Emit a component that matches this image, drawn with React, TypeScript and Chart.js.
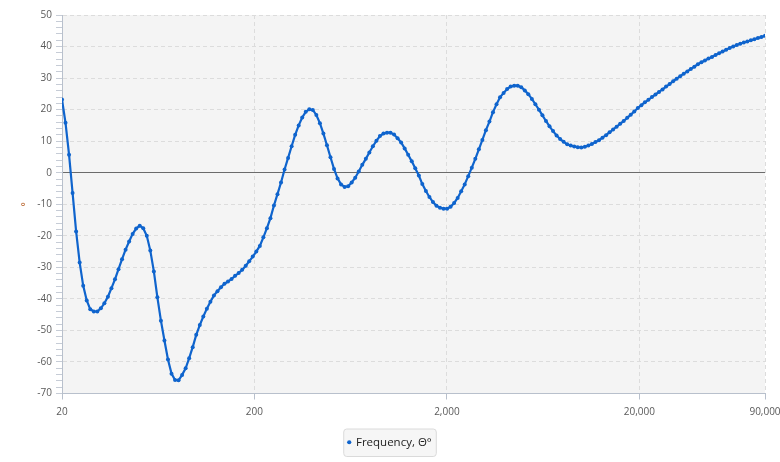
import { useEffect, useRef } from 'react'
import { Chart, registerables } from 'chart.js'

Chart.register(...registerables)
Chart.defaults.font.family = '"Open Sans", "Noto Sans", sans-serif'

// sample frequencies (Hz), log spaced from 20 to 90,000
const frequencies = [
  20, 20.86, 21.76, 22.7, 23.68, 24.71, 25.77, 26.89, 28.05, 29.26,
  30.52, 31.84, 33.21, 34.65, 36.14, 37.7, 39.33, 41.03, 42.8, 44.65,
  46.58, 48.59, 50.69, 52.88, 55.16, 57.54, 60.03, 62.62, 65.32, 68.14,
  71.08, 74.15, 77.35, 80.69, 84.17, 87.81, 91.6, 95.55, 99.68, 104,
  108.5, 113.2, 118.1, 123.2, 128.5, 134, 139.8, 145.8, 152.1, 158.7,
  165.6, 172.7, 180.2, 187.9, 196, 204.5, 213.3, 222.6, 232.2, 242.2,
  252.6, 263.5, 274.9, 286.8, 299.2, 312.1, 325.6, 339.6, 354.3, 369.6,
  385.6, 402.2, 419.6, 437.7, 456.6, 476.3, 496.9, 518.3, 540.7, 564,
  588.4, 613.8, 640.3, 668, 696.8, 726.9, 758.3, 791, 825.2, 860.8,
  897.9, 936.7, 977.1, 1019, 1063, 1109, 1157, 1207, 1259, 1314,
  1370, 1430, 1491, 1556, 1623, 1693, 1766, 1842, 1922, 2005,
  2091, 2182, 2276, 2374, 2476, 2583, 2695, 2811, 2933, 3059,
  3191, 3329, 3473, 3623, 3779, 3943, 4113, 4290, 4476, 4669,
  4870, 5081, 5300, 5529, 5768, 6017, 6276, 6547, 6830, 7125,
  7433, 7753, 8088, 8437, 8802, 9182, 9578, 9992, 10423, 10873,
  11343, 11833, 12344, 12877, 13433, 14013, 14618, 15249, 15907, 16594,
  17310, 18057, 18837, 19650, 20499, 21384, 22307, 23270, 24275, 25323,
  26416, 27557, 28746, 29987, 31282, 32633, 34042, 35512, 37045, 38645,
  40313, 42054, 43869, 45763, 47739, 49800, 51951, 54194, 56533, 58974,
  61522, 64178, 66949, 69840, 72855, 76001, 79282, 82705, 86276, 90000,
]

// phase in degrees
const phase = [
  23.2, 15.8, 5.7, -6.4, -18.6, -28.5, -35.8, -40.5, -43.3, -44.0,
  -44.0, -43.0, -41.4, -39.3, -36.6, -33.8, -30.6, -27.4, -24.4, -21.8,
  -19.4, -17.7, -16.8, -17.6, -20.0, -24.7, -31.3, -39.5, -46.9, -53.2,
  -59.2, -63.7, -65.7, -65.8, -64.1, -62.0, -58.8, -55.3, -51.4, -48.3,
  -45.6, -43.1, -40.9, -38.9, -37.6, -36.3, -35.2, -34.5, -33.7, -32.7,
  -31.8, -30.8, -29.5, -28.1, -26.6, -25.0, -23.2, -20.5, -17.6, -14.4,
  -10.4, -6.8, -3.1, 1.0, 4.7, 8.4, 12.0, 15.0, 17.5, 19.3,
  20.1, 19.9, 18.3, 15.7, 12.4, 8.7, 4.9, 1.2, -1.8, -3.7,
  -4.5, -4.3, -3.1, -1.6, 0.4, 2.5, 4.4, 6.4, 8.4, 10.1,
  11.6, 12.4, 12.7, 12.7, 12.1, 10.9, 9.6, 7.7, 5.7, 3.6,
  1.4, -0.9, -3.6, -5.8, -7.7, -9.3, -10.5, -11.1, -11.4, -11.4,
  -10.8, -9.6, -8.0, -5.9, -3.7, -1.1, 1.6, 4.4, 7.4, 10.4,
  13.5, 16.2, 19.2, 21.7, 23.9, 25.3, 26.5, 27.3, 27.6, 27.6,
  27.1, 26.1, 24.9, 23.4, 21.7, 20.0, 18.2, 16.4, 14.7, 13.2,
  11.8, 10.7, 9.8, 9.0, 8.6, 8.3, 8.1, 8.0, 8.2, 8.6,
  9.1, 9.7, 10.3, 11.1, 11.9, 12.8, 13.7, 14.6, 15.5, 16.4,
  17.4, 18.4, 19.4, 20.5, 21.4, 22.3, 23.1, 24.0, 24.8, 25.6,
  26.4, 27.3, 28.1, 29.0, 29.8, 30.6, 31.4, 32.1, 32.9, 33.6,
  34.4, 35.0, 35.6, 36.2, 36.7, 37.3, 37.9, 38.4, 39.0, 39.5,
  40.0, 40.5, 40.9, 41.3, 41.6, 42.0, 42.3, 42.7, 43.0, 43.4,
]

const xTicks = [20, 200, 2000, 20000, 90000]
const xTickLabels = ['20', '200', '2,000', '20,000', '90,000']
const yMin = -70
const yMax = 50

const BLUE = '#0f64cd'
const AXIS = '#b8c0cc'
const GRID = '#dcdcdc'
const TICK_TEXT = '#5a5a5a'

// plot background + framed legend
const backdrop = {
  id: 'backdrop',
  beforeDraw(chart) {
    const { ctx, chartArea } = chart
    ctx.save()
    ctx.fillStyle = '#f4f4f4'
    ctx.fillRect(chartArea.left, chartArea.top, chartArea.width, chartArea.height)
    const hb = chart.legend && chart.legend.legendHitBoxes && chart.legend.legendHitBoxes[0]
    if (hb) {
      const x = hb.left - 5
      const y = hb.top - 8
      const w = hb.width + 9
      const h = hb.height + 16
      ctx.beginPath()
      ctx.roundRect(x + 0.5, y + 0.5, w, h, 3)
      ctx.fillStyle = '#f6f6f6'
      ctx.fill()
      ctx.strokeStyle = '#dadada'
      ctx.lineWidth = 1
      ctx.stroke()
    }
    ctx.restore()
  },
}

const PhaseChart = () => {
  const canvasRef = useRef(null)
  const chartRef = useRef(null)

  useEffect(() => {
    if (!canvasRef.current) return
    if (chartRef.current) chartRef.current.destroy()

    chartRef.current = new Chart(canvasRef.current, {
      type: 'line',
      data: {
        datasets: [
          {
            label: 'Frequency, Θ°',
            data: frequencies.map((f, i) => ({ x: f, y: phase[i] })),
            borderColor: BLUE,
            backgroundColor: BLUE,
            borderWidth: 2.2,
            pointRadius: 2,
            pointBorderWidth: 0,
            pointBackgroundColor: BLUE,
            pointHoverRadius: 2,
            tension: 0,
            fill: false,
          },
        ],
      },
      options: {
        animation: false,
        responsive: true,
        maintainAspectRatio: false,
        events: [],
        layout: { padding: { top: 15, right: 0, left: 0, bottom: 4 } },
        scales: {
          x: {
            type: 'logarithmic',
            min: 20,
            max: 90000,
            afterBuildTicks: (scale) => {
              scale.ticks = xTicks.map((value) => ({ value }))
            },
            afterFit: (scale) => {
              scale.height = 33
              scale.paddingLeft = 0
              scale.paddingRight = 15
            },
            ticks: {
              autoSkip: false,
              maxRotation: 0,
              padding: 7,
              color: TICK_TEXT,
              font: { size: 10 },
              callback: (v) => {
                const k = xTicks.indexOf(Number(v))
                return k >= 0 ? xTickLabels[k] : ''
              },
            },
            grid: { color: GRID, tickColor: AXIS, tickLength: 6 },
            border: { color: AXIS, dash: [4, 3] },
          },
          y: {
            min: yMin,
            max: yMax,
            afterFit: (scale) => {
              scale.width = 62
            },
            ticks: {
              stepSize: 2,
              autoSkip: false,
              padding: 4,
              color: TICK_TEXT,
              font: { size: 10 },
              callback: (v) => (Number(v) % 10 === 0 ? String(v) : ''),
            },
            grid: {
              color: (ctx) => {
                if (!ctx.tick) return GRID
                if (ctx.tick.value === 0) return '#6b6b6b'
                return ctx.tick.value % 10 === 0 ? GRID : 'rgba(0,0,0,0)'
              },
              tickColor: '#c6ccd6',
              tickLength: 6,
            },
            border: {
              color: AXIS,
              dash: (ctx) => (ctx.tick && ctx.tick.value === 0 ? [] : [4, 3]),
            },
            title: {
              display: true,
              text: '°',
              color: '#b35a1f',
              font: { size: 10 },
              padding: { top: 20, bottom: 0 },
            },
          },
        },
        plugins: {
          tooltip: { enabled: false },
          legend: {
            position: 'bottom',
            labels: {
              usePointStyle: true,
              pointStyle: 'circle',
              boxWidth: 2,
              boxHeight: 3,
              padding: 10,
              color: '#222222',
              font: { size: 11.5 },
              generateLabels: (chart) =>
                Chart.defaults.plugins.legend.labels
                  .generateLabels(chart)
                  .map((item) => ({ ...item, lineWidth: 0, strokeStyle: 'rgba(0,0,0,0)' })),
            },
          },
        },
      },
      plugins: [backdrop],
    })

    return () => {
      if (chartRef.current) {
        chartRef.current.destroy()
        chartRef.current = null
      }
    }
  }, [])

  return <canvas ref={canvasRef} />
}

export default function App() {
  return (
    <div style={{ position: 'absolute', left: 0, top: 0, width: 780, height: 462 }}>
      <PhaseChart />
    </div>
  )
}
